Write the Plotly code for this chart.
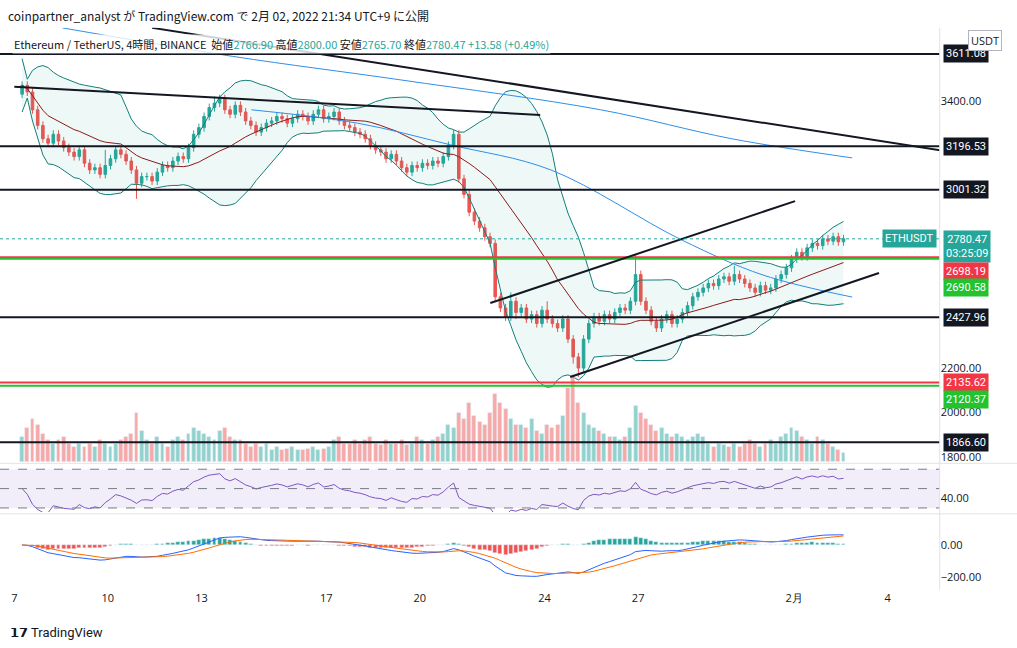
import pandas as pd
import numpy as np
import plotly.graph_objects as go

closes = [3470,3440,3360,3290,3230,3210, 3250,3220,3190,3170,3150,3180, 3120,3090,3100,3070,3110,3140,
 3180,3160,3130,3090,3030,3060, 3060,3040,3080,3110,3100,3130, 3150,3140,3190,3250,3280,3330,
 3370,3390,3410,3360,3340,3380, 3350,3310,3290,3260,3280,3300, 3310,3330,3320,3300,3320,3340,
 3330,3310,3340,3360,3320,3330, 3350,3310,3290,3280,3260,3250, 3230,3200,3180,3170,3140,3160,
 3130,3100,3080,3110,3100,3120, 3110,3130,3120,3150,3200,3250, 3050,2980,2900,2860,2830,2790,
 2760,2520,2470,2430,2500,2450, 2470,2420,2440,2400,2460,2420, 2400,2380,2420,2330,2250,2200,
 2330,2400,2430,2410,2440,2420, 2450,2470,2460,2500,2620,2500, 2460,2410,2380,2420,2440,2400,
 2420,2450,2480,2520,2540,2560, 2580,2570,2600,2610,2590,2620, 2600,2580,2560,2540,2570,2550,
 2560,2600,2620,2650,2690,2720, 2700,2740,2760,2750,2780,2770, 2790,2767,2780.47]
volumes = [40,55,70,60,45,35, 30,35,40,30,25,30, 25,30,25,35,30,25, 30,35,40,45,80,50, 35,30,40,30,25,35,
 40,35,45,55,50,45, 40,35,50,55,40,35, 35,30,25,30,25,30, 20,25,20,22,25,20, 20,22,25,20,22,25,
 35,40,30,30,35,30, 35,40,30,28,35,30, 30,35,28,30,40,35, 30,35,40,45,60,55, 80,70,95,75,65,60,
 80,110,95,85,70,60, 60,55,70,50,45,60, 55,60,75,120,140,95, 80,60,55,50,45,40, 40,35,40,55,90,80,
 70,60,50,55,45,40, 45,40,35,40,45,40, 30,25,30,28,25,30, 25,30,35,30,25,30, 35,30,40,45,55,50,
 40,35,30,40,35,30, 25,20,15]
first_open = 3430
wick = 18
big_high = {16: 3180, 37: 3420, 83: 3270, 94: 2540, 101: 2500, 118: 2710, 137: 2660}
big_low = {22: 2960, 91: 2770, 95: 2420, 106: 2220, 107: 2160}

levels_black = [3611.08, 3196.53, 3001.32, 2427.96, 1866.60]
levels_red = [2698.19, 2135.62]
levels_green = [2690.58, 2120.37]
price_ticks = [1800, 2000, 2200, 3400]
day_ticks = ["2022-01-07","2022-01-10","2022-01-13","2022-01-17","2022-01-20","2022-01-24","2022-01-27","2022-02-01","2022-02-04"]
day_text = ["7","10","13","17","20","24","27","2月","4"]
ma_a = [(1.54,3728),(7,3600),(12.4,3494),(18.8,3360),(23,3230),(26.86,3144)]
ma_b = [(7.6,3360),(11,3300),(14,3202),(17.2,3090),(21.4,2775),(24,2618),(26.86,2519)]
trend_lines = [((0,3463),(16.86,3337)), ((4.42,3728),(29.74,3177)),
               ((15.26,2492),(25.03,2950)), ((17.82,2160),(27.72,2627))]

base = pd.Timestamp("2022-01-07 06:00")
t = [base + pd.Timedelta(hours=4*i) for i in range(len(closes))]
def D(d): return pd.Timestamp("2022-01-07") + pd.Timedelta(days=d)

c = pd.Series(closes, dtype=float)
o = pd.Series([first_open] + closes[:-1], dtype=float)
hi = np.maximum(o, c) + wick
lo = np.minimum(o, c) - wick
for k, v in big_high.items(): hi[k] = max(hi[k], v)
for k, v in big_low.items(): lo[k] = min(lo[k], v)

mid = c.rolling(20, min_periods=1).mean()
sd = c.rolling(20, min_periods=2).std().fillna(60)
up, dn = mid + 2*sd, mid - 2*sd

delta = c.diff().fillna(0)
g = delta.clip(lower=0).ewm(alpha=1/14, adjust=False).mean() + 8
l = (-delta.clip(upper=0)).ewm(alpha=1/14, adjust=False).mean() + 8
rsi = 100 - 100/(1+g/l)
macd = c.ewm(span=12, adjust=False).mean() - c.ewm(span=26, adjust=False).mean()
sig = macd.ewm(span=9, adjust=False).mean()
hist = macd - sig

GREEN, RED = "#26a69a", "#ef5350"
fig = go.Figure()
upc = [GREEN if cc >= oo else RED for cc, oo in zip(c, o)]
fig.add_trace(go.Bar(x=t, y=volumes, marker_color=["rgba(38,166,154,0.5)" if u == GREEN else "rgba(239,83,80,0.5)" for u in upc],
                     yaxis="y2", xaxis="x", width=3*3600*1000))
fig.add_trace(go.Scatter(x=t, y=up, mode="lines", line=dict(color="#0f7f7a", width=1), yaxis="y"))
fig.add_trace(go.Scatter(x=t, y=dn, mode="lines", line=dict(color="#0f7f7a", width=1), fill="tonexty", fillcolor="rgba(38,166,154,0.08)", yaxis="y"))
fig.add_trace(go.Scatter(x=t, y=mid, mode="lines", line=dict(color="#8b1a1a", width=1), yaxis="y"))
for ma in (ma_a, ma_b):
    fig.add_trace(go.Scatter(x=[D(p[0]) for p in ma], y=[p[1] for p in ma], mode="lines",
                             line=dict(color="#2f8ee8", width=1, shape="spline"), yaxis="y"))
fig.add_trace(go.Candlestick(x=t, open=o, high=hi, low=lo, close=c, yaxis="y", xaxis="x",
                             increasing=dict(line=dict(color=GREEN, width=1), fillcolor=GREEN),
                             decreasing=dict(line=dict(color=RED, width=1), fillcolor=RED)))
fig.add_trace(go.Scatter(x=t, y=rsi, mode="lines", line=dict(color="#7e57c2", width=1), xaxis="x2", yaxis="y3"))
fig.add_trace(go.Bar(x=t, y=hist, xaxis="x3", yaxis="y4", width=3*3600*1000,
                     marker_color=["#26a69a" if v >= 0 else "#ef5350" for v in hist]))
fig.add_trace(go.Scatter(x=t, y=macd, mode="lines", line=dict(color="#2962ff", width=1), xaxis="x3", yaxis="y4"))
fig.add_trace(go.Scatter(x=t, y=sig, mode="lines", line=dict(color="#ff6d00", width=1), xaxis="x3", yaxis="y4"))

shapes = []
for v in levels_black:
    shapes.append(dict(type="line", xref="x domain", x0=0, x1=1, yref="y", y0=v, y1=v, line=dict(color="#131722", width=2)))
for v in levels_red:
    shapes.append(dict(type="line", xref="x domain", x0=0, x1=1, yref="y", y0=v, y1=v, line=dict(color="#f23645", width=2)))
for v in levels_green:
    shapes.append(dict(type="line", xref="x domain", x0=0, x1=1, yref="y", y0=v, y1=v, line=dict(color="#22c32e", width=2)))
for (a, b) in trend_lines:
    shapes.append(dict(type="line", xref="x", yref="y", x0=D(a[0]), y0=a[1], x1=D(b[0]), y1=b[1], line=dict(color="#131722", width=2)))
shapes.append(dict(type="line", xref="x domain", x0=0, x1=1, yref="y", y0=closes[-1], y1=closes[-1], line=dict(color=GREEN, width=1, dash="dot")))
shapes.append(dict(type="rect", xref="x2 domain", x0=0, x1=1, yref="y3", y0=30, y1=70, fillcolor="rgba(126,87,194,0.1)", line_width=0))
for v in (70, 50, 30):
    shapes.append(dict(type="line", xref="x2 domain", x0=0, x1=1, yref="y3", y0=v, y1=v, line=dict(color="#787b86", width=1, dash="dash")))
for yy in (0.285, 0.207):
    shapes.append(dict(type="line", xref="paper", yref="paper", x0=0, x1=1, y0=yy, y1=yy, line=dict(color="#e0e3eb", width=1)))
shapes.append(dict(type="line", xref="paper", yref="paper", x0=0.924, x1=0.924, y0=0.09, y1=0.957, line=dict(color="#e0e3eb", width=1)))

ann = []
def label(v, text, bg, fg="white", yshift=0):
    ann.append(dict(xref="paper", yref="y", x=0.927, y=v, text=text, xanchor="left", showarrow=False, yshift=yshift,
                    bgcolor=bg, font=dict(color=fg, size=11, family="Roboto"), borderpad=2))
for v in levels_black:
    label(v, f"{v:.2f}", "#131722")
label(2780.47, "2780.47<br>03:25:09", GREEN, yshift=-8)
label(2698.19, "2698.19", "#f23645", yshift=-14)
label(2690.58, "2690.58", "#22c32e", yshift=-29)
label(2135.62, "2135.62", "#f23645")
label(2120.37, "2120.37", "#22c32e", yshift=-14)
ann.append(dict(xref="paper", yref="y", x=0.921, y=closes[-1], text="ETHUSDT", xanchor="right", showarrow=False,
                bgcolor=GREEN, font=dict(color="white", size=11, family="Roboto"), borderpad=2))
ann.append(dict(xref="paper", yref="paper", x=0.006, y=0.993, text="coinpartner_analyst が TradingView.com で 2月 02, 2022 21:34 UTC+9 に公開",
                xanchor="left", yanchor="top", showarrow=False, font=dict(size=12, color="#131722", family="Noto Sans CJK JP")))
ann.append(dict(xref="paper", yref="paper", x=0.012, y=0.948, xanchor="left", yanchor="top", showarrow=False,
                text="Ethereum / TetherUS, 4時間, BINANCE  始値<span style='color:#26a69a'>2766.90</span> 高値<span style='color:#26a69a'>2800.00</span> 安値<span style='color:#26a69a'>2765.70</span> 終値<span style='color:#26a69a'>2780.47 +13.58 (+0.49%)</span>",
                font=dict(size=11, color="#131722", family="Noto Sans CJK JP"), bgcolor="rgba(255,255,255,0.8)"))
ann.append(dict(xref="paper", yref="paper", x=0.985, y=0.937, xanchor="right", yanchor="middle", showarrow=False, text="USDT",
                font=dict(size=11, color="#131722"), bordercolor="#b2b5be", borderwidth=1, borderpad=2, bgcolor="white"))
ann.append(dict(xref="paper", yref="paper", x=0.008, y=0.01, xanchor="left", yanchor="bottom", showarrow=False,
                text="<b>𝟭𝟳</b> TradingView", font=dict(size=13, color="#131722", family="Roboto")))

xr = ["2022-01-06 13:00", "2022-02-05 16:00"]
common_x = dict(range=xr, showgrid=False, zeroline=False, type="date")
fig.update_layout(
    width=1017, height=648, margin=dict(l=0, r=0, t=0, b=0, autoexpand=False), showlegend=False,
    plot_bgcolor="white", paper_bgcolor="white", bargap=0, shapes=shapes, annotations=ann,
    xaxis=dict(**common_x, domain=[0, 0.924], anchor="y", showticklabels=False, rangeslider=dict(visible=False)),
    xaxis2=dict(**common_x, domain=[0, 0.924], anchor="y3", showticklabels=False, matches="x"),
    xaxis3=dict(**common_x, domain=[0, 0.924], anchor="y4", matches="x", tickvals=day_ticks, ticktext=day_text,
                tickfont=dict(size=11, color="#131722"), ticks=""),
    yaxis=dict(domain=[0.287, 0.957], range=[1778, 3728], side="right", tickvals=price_ticks,
               ticktext=[f"{v:.2f}" for v in price_ticks], showgrid=False, zeroline=False, tickfont=dict(size=11, color="#131722")),
    yaxis2=dict(overlaying="y", range=[0, 700], visible=False),
    yaxis3=dict(domain=[0.210, 0.282], range=[25.9, 74.1], side="right", tickvals=[40], ticktext=["40.00"], showgrid=False,
                zeroline=False, tickfont=dict(size=11, color="#131722"), anchor="x2"),
    yaxis4=dict(domain=[0.0895, 0.1975], range=[-281, 156], side="right", tickvals=[0, -200], ticktext=["0.00", "−200.00"],
                showgrid=False, zeroline=False, tickfont=dict(size=11, color="#131722"), anchor="x3"),
)
fig.write_html("out.html", config={"displayModeBar": False})
with open("out.html", encoding="utf-8") as f:
    html = f.read()
html = html.replace("<body>", "<body style=\"margin:0;padding:0\">", 1)
with open("out.html", "w", encoding="utf-8") as f:
    f.write(html)
